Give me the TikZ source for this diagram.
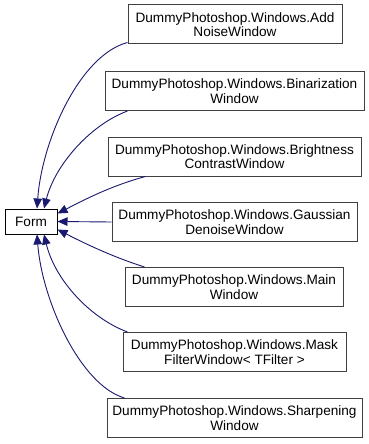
\documentclass[tikz,border=0pt]{standalone}
\usepackage{fontspec}
\setmainfont{Liberation Sans}
\usetikzlibrary{arrows.meta,calc}
\definecolor{edgeblue}{HTML}{191970}
\definecolor{boxgray}{HTML}{404040}
\tikzset{
  cls/.style={draw=boxgray, line width=1pt, fill=white, inner sep=0pt,
    minimum height=39pt, align=center, font=\fontsize{13.6}{14.5}\selectfont},
  base/.style={draw=black, line width=1pt, fill=white, inner sep=0pt,
    minimum width=52pt, minimum height=25pt, font=\fontsize{13.6}{14.5}\selectfont},
  inherit/.style={draw=edgeblue, line width=0.9pt,
    -{Triangle[length=10pt,width=8.5pt]}, fill=none},
}
\begin{document}
\begin{tikzpicture}[x=1pt,y=-1pt]
  \useasboundingbox[fill=white] (0,0) rectangle (369,444);

  % derived window classes
  \node[cls, minimum width=214pt] (addnoise) at (235,24.5)
    {DummyPhotoshop.Windows.Add\\NoiseWindow};
  \node[cls, minimum width=259pt] (binar) at (234.5,91)
    {DummyPhotoshop.Windows.Binarization\\Window};
  \node[cls, minimum width=253pt] (bright) at (234.5,156.5)
    {DummyPhotoshop.Windows.Brightness\\ContrastWindow};
  \node[cls, minimum width=245pt] (gauss) at (234.5,222)
    {DummyPhotoshop.Windows.Gaussian\\DenoiseWindow};
  \node[cls, minimum width=218pt] (mainw) at (234,287)
    {DummyPhotoshop.Windows.Main\\Window};
  \node[cls, minimum width=223pt] (mask) at (234.5,352)
    {DummyPhotoshop.Windows.Mask\\FilterWindow< TFilter >};
  \node[cls, minimum width=255pt] (sharp) at (234.5,418)
    {DummyPhotoshop.Windows.Sharpening\\Window};

  % base class
  \node[base] (form) at (31,221.5) {Form};

  % inheritance arrows
  \draw[inherit] ($(addnoise.south west)+(0,-2)$)
    .. controls (80,55) and (42,140) .. ($(form.north)+(6,0)$);
  \draw[inherit] ($(binar.south west)+(23,0)$)
    .. controls (90,125) and (55,165) .. ($(form.north)+(13,0)$);
  \draw[inherit] ($(bright.south west)+(38,0)$)
    .. controls (110,186) and (82,201) .. ($(form.east)+(0,-8)$);
  \draw[inherit] (gauss.west) -- (form.east);
  \draw[inherit] ($(mainw.north west)+(20,0)$)
    .. controls (110,256) and (82,242) .. ($(form.east)+(0,8)$);
  \draw[inherit] ($(mask.north west)+(5,0)$)
    .. controls (90,318) and (55,280) .. ($(form.south)+(13,0)$);
  \draw[inherit] ($(sharp.north west)+(18,0)$)
    .. controls (80,385) and (42,300) .. ($(form.south)+(6,0)$);
\end{tikzpicture}
\end{document}
